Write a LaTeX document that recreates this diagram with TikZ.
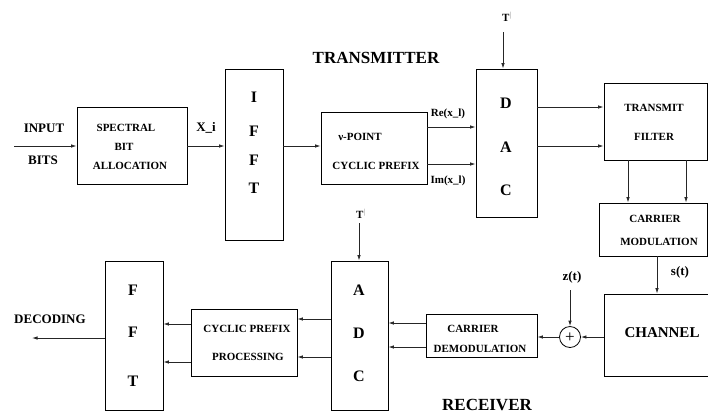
\documentclass[tikz,border=0pt]{standalone}
\usepackage{fontspec}
\setmainfont{Liberation Serif}
\usetikzlibrary{arrows.meta,calc}
\newcommand{\fs}[1]{\fontsize{#1}{#1}\selectfont\bfseries}
\begin{document}
\begin{tikzpicture}[x=1pt,y=-1pt,
  blk/.style={draw=black,line width=0.9pt,inner sep=0pt,minimum width=#1},
  arr/.style={draw=black!85,line width=0.8pt,-{Latex[length=5.5pt,width=3.5pt]}},
  lbl/.style={inner sep=0pt,font=\fs{11}},
  big/.style={inner sep=0pt,font=\fs{13}},
  let/.style={inner sep=0pt,font=\fs{16}},
  ttl/.style={inner sep=0pt,font=\fs{17}}]
\useasboundingbox (0,0) rectangle (708,416);
\clip (0,0) rectangle (708,416);
% boxes
\node[blk=110pt,minimum height=77pt] (spec) at (132,145.5) {};
\node[blk=58pt,minimum height=171pt] (ifft) at (254,154.5) {};
\node[blk=106pt,minimum height=72pt] (cp) at (374,148) {};
\node[blk=61pt,minimum height=148pt] (dac) at (506.5,143) {};
\node[blk=103pt,minimum height=77pt] (tf) at (655.5,121.5) {};
\node[blk=108pt,minimum height=53pt] (cm) at (653,229.5) {};
\node[blk=110pt,minimum height=82pt] (ch) at (659,335) {};
\node[draw=black,line width=0.8pt,circle,minimum size=21pt,inner sep=0pt] (sum) at (570,337) {};
\node[inner sep=0pt,font=\fontsize{17}{17}\selectfont] at ([yshift=-1pt]sum) {+};
\node[blk=111pt,minimum height=43pt] (cd) at (481.5,335.5) {};
\node[blk=57pt,minimum height=149pt] (adc) at (359.5,335.5) {};
\node[blk=106pt,minimum height=67pt] (cpp) at (244,342.5) {};
\node[blk=58pt,minimum height=149pt] (fft) at (134,335.5) {};
% free ends
\coordinate (in) at (14,146);
\coordinate (tdac) at (503,32);
\coordinate (tadc) at (359,223);
\coordinate (zt) at (570,290);
\coordinate (dec) at (32,338);
% box texts
\node[lbl] at (126,128) {SPECTRAL};
\node[lbl] at (124,147) {BIT};
\node[lbl] at (130,166) {ALLOCATION};
\node[let] at (254,97) {I};
\node[let] at (254,131) {F};
\node[let] at (254,160) {F};
\node[let] at (254,188) {T};
\node[lbl] at (360,137) {ν-POINT};
\node[lbl] at (376,166) {CYCLIC PREFIX};
\node[let] at (506,103) {D};
\node[let] at (506,147) {A};
\node[let] at (506,190) {C};
\node[lbl] at (654,108) {TRANSMIT};
\node[lbl] at (654,137) {FILTER};
\node[lbl] at (655,219) {CARRIER};
\node[lbl] at (659,242) {MODULATION};
\node[font=\fs{15},inner sep=0pt] at (662,333) {CHANNEL};
\node[lbl] at (473,329) {CARRIER};
\node[lbl] at (480,349) {DEMODULATION};
\node[let] at (359,290) {A};
\node[let] at (359,333) {D};
\node[let] at (359,376) {C};
\node[lbl] at (247,329) {CYCLIC PREFIX};
\node[lbl] at (248,357) {PROCESSING};
\node[let] at (133,290) {F};
\node[let] at (133,332) {F};
\node[let] at (133,381) {T};
% other labels
\node[big] at (44,128) {INPUT};
\node[big] at (43,160) {BITS};
\node[big] at (206,128) {X\_i};
\node[ttl] at (376,58) {TRANSMITTER};
\node[lbl] at (448,114) {Re(x\_l)};
\node[lbl] at (448,181) {Im(x\_l)};
\node[lbl,anchor=west] at (502,17) {T\textsuperscript{\mdseries\color{gray}|}};
\node[lbl,anchor=west] at (356,214) {T\textsuperscript{\mdseries\color{gray}|}};
\node[big] at (680,272) {s(t)};
\node[big] at (572,277) {z(t)};
\node[big] at (50,319) {DECODING};
\node[ttl] at (487,405) {RECEIVER};
% connectors
\draw[arr] (in) -- (spec.west |- in);
\draw[arr] (spec.east |- in) -- (ifft.west |- in);
\draw[arr] (ifft.east |- 0,146) -- (cp.west |- 0,146);
\draw[arr] (cp.east |- 0,127) -- (dac.west |- 0,127);
\draw[arr] (cp.east |- 0,164) -- (dac.west |- 0,164);
\draw[arr] (tdac) -- (tdac |- dac.north);
\draw[arr] (dac.east |- 0,107) -- (tf.west |- 0,107);
\draw[arr] (dac.east |- 0,146) -- (tf.west |- 0,146);
\draw[arr] (tf.south -| 628,0) -- (cm.north -| 628,0);
\draw[arr] (tf.south -| 686,0) -- (cm.north -| 686,0);
\draw[arr] (cm.south -| 657,0) -- (ch.north -| 657,0);
\draw[arr] (ch.west |- sum) -- (sum.east);
\draw[arr] (zt) -- (sum.north);
\draw[arr] (sum.west) -- (cd.east |- sum);
\draw[arr] (cd.west |- 0,323) -- (adc.east |- 0,323);
\draw[arr] (cd.west |- 0,347) -- (adc.east |- 0,347);
\draw[arr] (tadc) -- (tadc |- adc.north);
\draw[arr] (adc.west |- 0,319) -- (cpp.east |- 0,319);
\draw[arr] (adc.west |- 0,357) -- (cpp.east |- 0,357);
\draw[arr] (cpp.west |- 0,324) -- (fft.east |- 0,324);
\draw[arr] (cpp.west |- 0,362) -- (fft.east |- 0,362);
\draw[arr] (fft.west |- dec) -- (dec);
\end{tikzpicture}
\end{document}
